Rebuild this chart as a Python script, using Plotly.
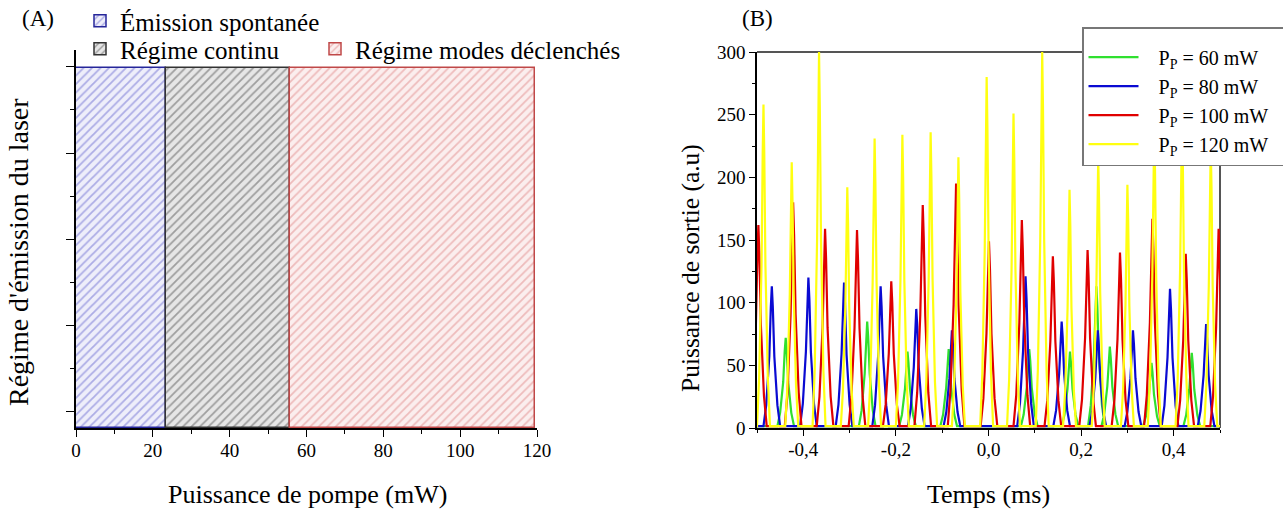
import plotly.graph_objects as go

W, H = 1283, 512


def px(x):
    return x / W


def py(y):
    return 1 - y / H


# ---------------- Panel A data ----------------
regime_labels = ["Émission spontanée", "Régime continu", "Régime modes déclenchés"]
regime_start = [0.0, 23.5, 55.7]
regime_end = [23.5, 55.7, 119.5]
regime_level = [1.0, 1.0, 1.0]
pump_ticks = [0, 20, 40, 60, 80, 100, 120]

# ---------------- Panel B data (peak times in ms, peak heights in a.u.) ----------------
series_labels = ["P<sub>P</sub> = 60 mW", "P<sub>P</sub> = 80 mW",
                 "P<sub>P</sub> = 100 mW", "P<sub>P</sub> = 120 mW"]

green_t = [-0.438, -0.262, -0.175, -0.086, 0.088, 0.176, 0.233, 0.262, 0.352, 0.439]
green_h = [72, 85, 61, 63, 63, 61, 113, 65, 52, 60]

blue_t = [-0.468, -0.389, -0.312, -0.233, -0.156, -0.079, 0.080, 0.158, 0.236, 0.312, 0.392, 0.470]
blue_h = [113, 120, 116, 113, 95, 78, 121, 85, 78, 78, 111, 83]

red_t = [-0.497, -0.422, -0.353, -0.284, -0.210, -0.142, -0.070, 0.001, 0.072, 0.139,
         0.214, 0.284, 0.354, 0.426, 0.497]
red_h = [162, 180, 159, 158, 117, 178, 195, 149, 166, 137, 142, 140, 167, 139, 159]

yellow_t = [-0.486, -0.425, -0.366, -0.305, -0.246, -0.186, -0.125, -0.065, -0.004, 0.054,
            0.116, 0.175, 0.237, 0.300, 0.358, 0.418, 0.480]
yellow_h = [258, 212, 300, 192, 231, 234, 236, 216, 280, 251, 300, 190, 215, 194, 240, 250, 225]

time_tick_vals = [-0.4, -0.2, 0.0, 0.2, 0.4]
time_tick_text = ["-0,4", "-0,2", "0,0", "0,2", "0,4"]
power_tick_vals = [0, 50, 100, 150, 200, 250, 300]

# ---------------- styles ----------------
FONT = "Liberation Serif"
regime_fg = ["#6a6ad0", "#555555", "#e08888"]
regime_bg = ["#eeeefa", "#e6e6e6", "#fbeeee"]
regime_edge = ["#26269a", "#333333", "#c04848"]
regime_legend = ["legend2", "legend3", "legend4"]

series_colors = ["#2fe02f", "#0a0ad2", "#e00000", "#ffff10"]
series_halfwidth = [0.018, 0.018, 0.018, 0.014]
# pulse shape template (offset in half-widths, fraction of peak height)
PROFILE_OFF = [-1.0, -0.67, -0.3, -0.12, 0.0, 0.12, 0.3, 0.67, 1.0]
PROFILE_FRAC = [0.0, 0.15, 0.5, 0.85, 1.0, 0.85, 0.5, 0.15, 0.0]
BASE = 1.5
PAD = "&nbsp;" * 3


def pulse_train(times, heights, hw):
    xs, ys = [-0.55], [BASE]
    for t, h in zip(times, heights):
        for o, f in zip(PROFILE_OFF, PROFILE_FRAC):
            xs.append(t + o * hw)
            ys.append(BASE + (h - BASE) * f)
    xs.append(0.55)
    ys.append(BASE)
    return xs, ys


fig = go.Figure()

# Panel A bars
for i, name in enumerate(regime_labels):
    fig.add_trace(go.Bar(
        x=[(regime_start[i] + regime_end[i]) / 2],
        y=[regime_level[i]],
        width=[regime_end[i] - regime_start[i]],
        name=name,
        marker=dict(color=regime_bg[i],
                    line=dict(color=regime_edge[i], width=1.5),
                    pattern=dict(shape="/", fgcolor=regime_fg[i], bgcolor=regime_bg[i],
                                 size=6, solidity=0.3)),
        xaxis="x", yaxis="y",
        legend=regime_legend[i],
        hoverinfo="skip",
    ))

# Panel B traces
series_t = [green_t, blue_t, red_t, yellow_t]
series_h = [green_h, blue_h, red_h, yellow_h]
for i in range(4):
    xs, ys = pulse_train(series_t[i], series_h[i], series_halfwidth[i])
    fig.add_trace(go.Scatter(
        x=xs, y=ys, mode="lines", name=PAD + series_labels[i] + PAD,
        line=dict(color=series_colors[i], width=2.2),
        xaxis="x2", yaxis="y2", legend="legend",
    ))

axis_common = dict(showgrid=False, zeroline=False, showline=True, linecolor="black",
                   linewidth=1.5, ticks="outside", tickcolor="black", automargin=False,
                   tickfont=dict(family=FONT, size=19, color="black"))

legend_small = dict(bgcolor="rgba(0,0,0,0)", font=dict(family=FONT, size=25),
                    xanchor="left", yanchor="top")


def note(text, x, y, size, angle=0):
    return dict(text=text, x=px(x), y=py(y), xref="paper", yref="paper", showarrow=False,
                xanchor="center", yanchor="middle", textangle=angle,
                font=dict(family=FONT, size=size))


fig.update_layout(
    width=W, height=H,
    margin=dict(l=0, r=0, t=0, b=0, autoexpand=False),
    paper_bgcolor="white", plot_bgcolor="white",
    font=dict(family=FONT, color="black"),
    bargap=0, barmode="overlay",
    showlegend=True,
    xaxis=dict(domain=[px(76), px(537)], range=[0, 120], anchor="y",
               tickvals=pump_ticks, ticklen=7, ticklabelstandoff=-3,
               minor=dict(dtick=10, tick0=0, ticklen=4, ticks="outside", tickcolor="black"),
               **axis_common),
    yaxis=dict(domain=[py(428), py(50)], range=[0, (428 - 50) / 360], anchor="x",
               showticklabels=False, tickmode="linear", tick0=0.0472, dtick=0.2389, ticklen=8,
               minor=dict(tick0=0.0472, dtick=0.11945, ticklen=4, ticks="outside", tickcolor="black"),
               **axis_common),
    xaxis2=dict(domain=[px(757), px(1220)], range=[-0.5, 0.5], anchor="y2",
                tickvals=time_tick_vals, ticktext=time_tick_text, ticklen=6, ticklabelstandoff=-3,
                minor=dict(dtick=0.1, tick0=-0.5, ticklen=3, ticks="outside", tickcolor="black"),
                **axis_common),
    yaxis2=dict(domain=[py(428), py(52)], range=[0, 300], anchor="x2",
                tickvals=power_tick_vals, ticklen=6,
                minor=dict(dtick=25, tick0=0, ticklen=3, ticks="outside", tickcolor="black"),
                **axis_common),
    legend=dict(x=px(1082), y=py(27), xanchor="left", yanchor="top",
                bgcolor="white", bordercolor="#777777", borderwidth=1.5,
                font=dict(family=FONT, size=20), tracegroupgap=0, itemwidth=50,
                title=dict(text="&nbsp;", font=dict(family=FONT, size=7))),
    legend2=dict(x=px(80), y=py(-2), **legend_small),
    legend3=dict(x=px(80), y=py(26), **legend_small),
    legend4=dict(x=px(315), y=py(26), **legend_small),
    shapes=[
        dict(type="line", xref="x2 domain", yref="y2 domain", x0=0, x1=1, y0=1, y1=1,
             line=dict(color="#555555", width=2), layer="below"),
        dict(type="line", xref="x2 domain", yref="y2 domain", x0=1, x1=1, y0=0, y1=1,
             line=dict(color="#555555", width=2), layer="below"),
    ],
    annotations=[
        note("(A)", 38, 18, 23),
        note("(B)", 757, 18, 23),
        note("Puissance de pompe (mW)", 307, 494, 26),
        note("Temps (ms)", 988, 494, 26),
        note("Régime d'émission du laser", 18, 252, 28, -90),
        note("Puissance de sortie (a.u)", 690, 268, 25.5, -90),
    ],
)

# remove the browser's default 8 px page margin so the figure sits at the window origin
fig.write_html("out.html", config={"displayModeBar": False},
               post_script="document.body.style.margin='0';")
